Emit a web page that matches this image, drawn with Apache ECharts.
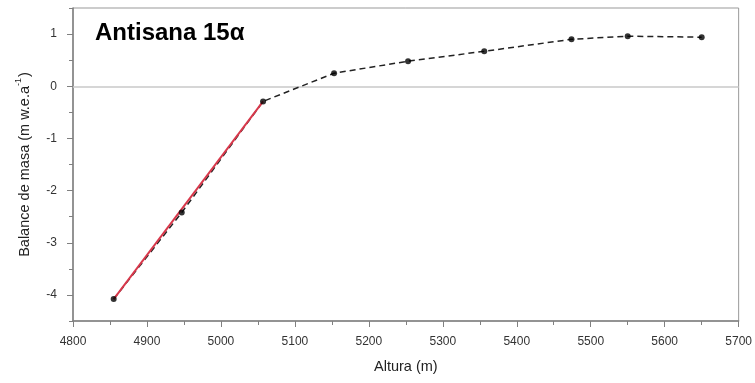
<!DOCTYPE html>
<html>
<head>
<meta charset="utf-8">
<script src="https://cdn.jsdelivr.net/npm/echarts@6/dist/echarts.min.js"></script>
<style>html,body{margin:0;padding:0;background:#fff}#c{width:755px;height:383px}</style>
</head>
<body>
<div id="c"></div>
<script>
const altitudes = [4855, 4947, 5057, 5153, 5253, 5356, 5474, 5550, 5650];
const balance = [-4.08, -2.42, -0.29, 0.25, 0.48, 0.67, 0.90, 0.96, 0.94];
const redFitX = [4855, 5057];
const redFitY = [-4.08, -0.29];
const yMajorTicks = [-4, -3, -2, -1, 0, 1];
const yMinorTicks = [-4.5, -3.5, -2.5, -1.5, -0.5, 0.5, 1.5];
const titleText = 'Antisana 15α';
const xName = 'Altura (m)';
const yNameMain = 'Balance de masa (m w.e.a';
const yNameSup = '-1';

const pts = altitudes.map((x, i) => [x, balance[i]]);
const red = redFitX.map((x, i) => [x, redFitY[i]]);

const chart = echarts.init(document.getElementById('c'));
const font = 'Liberation Sans, Arial, sans-serif';
const axisGray = '#808080';
chart.setOption({
  animation: false,
  backgroundColor: '#fff',
  title: {
    text: titleText, left: 90, top: 16,
    textStyle: { fontFamily: font, fontWeight: 'bold', fontSize: 24, color: '#000' }
  },
  grid: { left: 73, right: 16, top: 8, bottom: 62, show: true, borderColor: '#999', borderWidth: 1 },
  xAxis: {
    type: 'value', min: 4800, max: 5700, interval: 100,
    name: xName, nameLocation: 'middle', nameGap: 38,
    nameTextStyle: { fontFamily: font, fontSize: 14.5, color: '#222' },
    axisLine: { show: true, onZero: false, lineStyle: { color: axisGray, width: 1.5 } },
    axisTick: { show: true, length: 6, inside: false, lineStyle: { color: axisGray } },
    minorTick: { show: true, splitNumber: 2, length: 4, lineStyle: { color: axisGray } },
    axisLabel: { fontFamily: font, fontSize: 12, color: '#333', margin: 15, formatter: v => String(v) },
    splitLine: { show: false }
  },
  yAxis: [
    {
      type: 'value', min: -4.5, max: 1.5, interval: 0.5,
      name: '{a|' + yNameMain + '}{s|' + yNameSup + '}{a|)}',
      nameLocation: 'middle', nameGap: 41,
      nameTextStyle: {
        fontFamily: font, fontSize: 14.5, color: '#222',
        rich: {
          a: { fontFamily: font, fontSize: 14.5, color: '#222', lineHeight: 18, verticalAlign: 'bottom' },
          s: { fontFamily: font, fontSize: 9, color: '#222', lineHeight: 18, verticalAlign: 'top', padding: [0, 1, 0, 0] }
        }
      },
      axisLine: { show: true, onZero: false, lineStyle: { color: axisGray, width: 1.5 } },
      axisTick: { show: true, length: 6, customValues: yMajorTicks, lineStyle: { color: axisGray } },
      axisLabel: {
        fontFamily: font, fontSize: 12, color: '#333', margin: 16,
        customValues: yMajorTicks, formatter: v => String(v)
      },
      splitLine: { show: false }
    },
    {
      type: 'value', min: -4.5, max: 1.5, interval: 0.5, position: 'left',
      axisLine: { show: false, onZero: false },
      axisTick: { show: true, length: 4, customValues: yMinorTicks, lineStyle: { color: axisGray } },
      axisLabel: { show: false },
      splitLine: { show: false }
    }
  ],
  series: [
    {
      type: 'line', data: pts, symbol: 'none', z: 2,
      lineStyle: { color: '#222', width: 1.5, type: [6, 4] },
      markLine: {
        silent: true, symbol: 'none', label: { show: false },
        lineStyle: { color: '#c8c8c8', width: 1.5, type: 'solid' },
        data: [{ yAxis: 0 }], z: 1
      }
    },
    {
      type: 'line', data: red, symbol: 'none', z: 3,
      lineStyle: { color: '#d8384b', width: 2 }
    },
    {
      type: 'scatter', data: pts, symbol: 'circle', symbolSize: 6, z: 4,
      itemStyle: { color: '#000' }
    }
  ]
});
</script>
</body>
</html>
